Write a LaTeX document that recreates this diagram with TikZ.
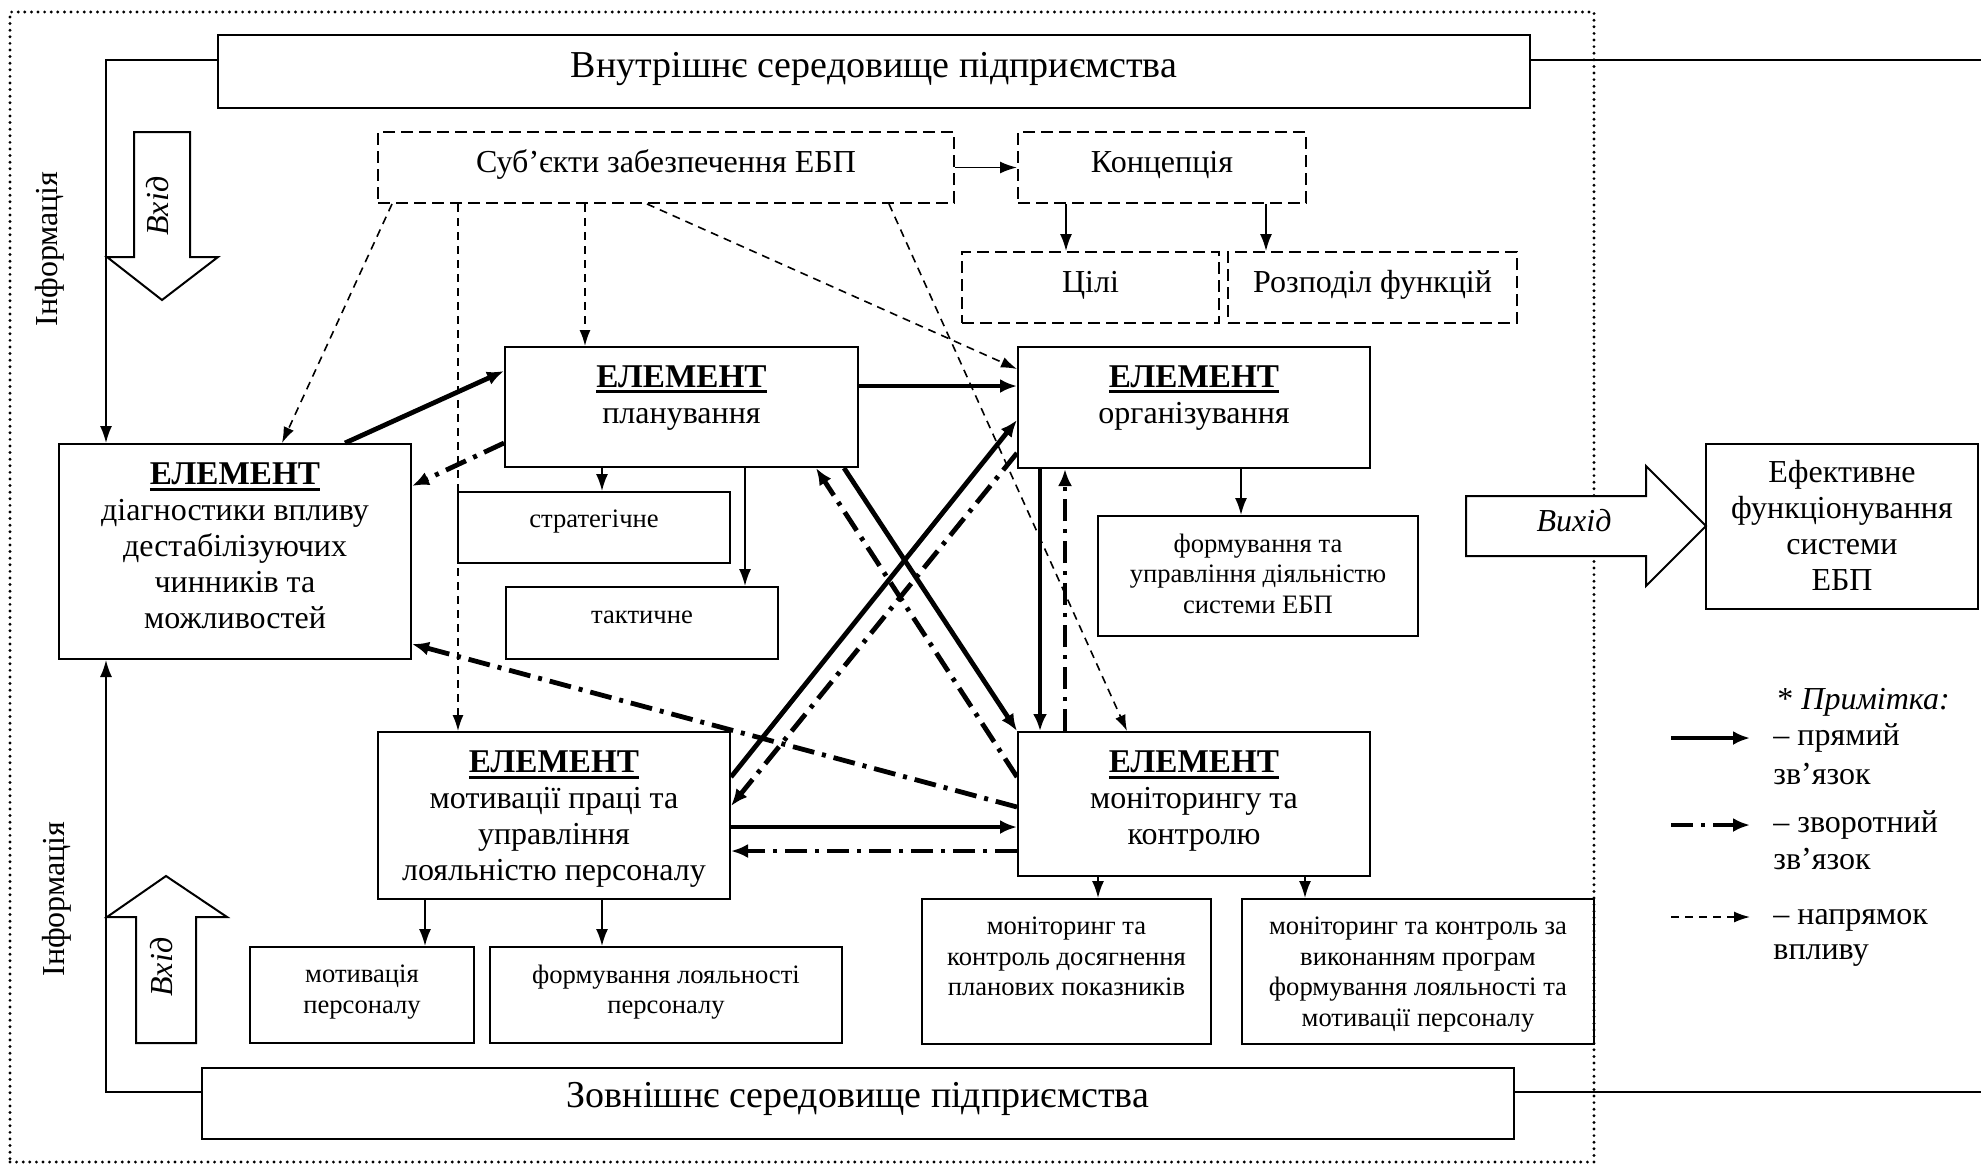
\documentclass[tikz,border=0pt]{standalone}
\usepackage{fontspec}
\setmainfont{Liberation Serif}
\usetikzlibrary{arrows.meta,calc,fit}
\newsavebox\elbox
\newcommand\elem{\sbox\elbox{\fontsize{16.6}{18}\selectfont\bfseries ЕЛЕМЕНТ}\rlap{\rule[-3pt]{\wd\elbox}{1.5pt}}\usebox\elbox}
\newcommand\fenv{\fontsize{19}{22}\selectfont}
\newcommand\fmain{\fontsize{16}{18}\selectfont}
\newcommand\fsub{\fontsize{13.3}{15.25}\selectfont}
\begin{document}
\begin{tikzpicture}[x=0.5pt,y=-0.5pt,
  box/.style={draw, line width=1pt, inner sep=0pt},
  dbox/.style={box, dash pattern=on 6pt off 3pt},
  txt/.style={inner sep=0pt, align=center},
  btxt/.style={inner sep=0pt, anchor=base},
  plainline/.style={line width=0.9pt},
  thinarr/.style={line width=0.9pt, -{Latex[length=8.5pt,width=6pt]}},
  thickarr/.style={line width=2.4pt, -{Latex[length=8.5pt,width=7pt]}},
  fbarr/.style={line width=2.4pt, dash pattern=on 11pt off 4pt on 2pt off 4pt, -{Latex[length=8.5pt,width=7pt]}},
  inflarr/.style={line width=0.8pt, dash pattern=on 4pt off 3pt, -{Latex[length=8pt,width=5.5pt]}},
  blockarr/.style={draw, line width=1pt, fill=white, line join=miter},
  legtxt/.style={anchor=base west, inner sep=0pt, font=\fmain}
]
\useasboundingbox (0,0) rectangle (1981,1164);
\fill[white] (0,0) rectangle (1981,1164);
% outer dotted frame
\node[draw, line width=1.6pt, dash pattern=on 0pt off 3.3pt, line cap=round, inner sep=0pt, fit={(10,12)(1594,1162)}] (frame) {};

% environment boxes
\node[box, fit={(218,35)(1530,108)}] (inner) {};
\node[btxt, font=\fenv] (innertxt) at (874,77) {Внутрішнє середовище підприємства};
\node[box, fit={(202,1068)(1514,1139)}] (outer) {};
\node[btxt, font=\fenv] (outertxt) at (858,1107) {Зовнішнє середовище підприємства};

% subjects / concept
\node[dbox, fit={(378,132)(954,203)}] (subj) {};
\node[btxt, font=\fmain] (subjtxt) at (666,172) {Суб’єкти забезпечення ЕБП};
\node[dbox, fit={(1018,132)(1306,203)}] (concept) {};
\node[btxt, font=\fmain] (concepttxt) at (1162,172) {Концепція};
\node[dbox, fit={(962,252)(1219,323)}] (goals) {};
\node[btxt, font=\fmain] (goalstxt) at (1090.5,292) {Цілі};
\node[dbox, fit={(1228,252)(1517,323)}] (distr) {};
\node[btxt, font=\fmain] (distrtxt) at (1372.5,292) {Розподіл функцій};

% elements
\node[box, fit={(59,444)(411,659)}] (diag) {};
\node[txt, font=\fmain] (diagtxt) at (235,546) {\elem\\діагностики впливу\\дестабілізуючих\\чинників та\\можливостей};
\node[box, fit={(505,347)(858,467)}] (plan) {};
\node[txt, font=\fmain] (plantxt) at (681.5,398) {\elem\\планування};
\node[box, fit={(1018,347)(1370,468)}] (org) {};
\node[txt, font=\fmain] (orgtxt) at (1194,398) {\elem\\організування};
\node[box, fit={(378,732)(730,899)}] (motiv) {};
\node[txt, font=\fmain] (motivtxt) at (554,819.5) {\elem\\мотивації праці та\\управління\\лояльністю персоналу};
\node[box, fit={(1018,732)(1370,876)}] (monit) {};
\node[txt, font=\fmain] (monittxt) at (1194,801.5) {\elem\\моніторингу та\\контролю};

% sub boxes
\node[box, fit={(458,492)(730,563)}] (strat) {};
\node[btxt, font=\fsub] (strattxt) at (594,527) {стратегічне};
\node[box, fit={(506,587)(778,659)}] (tact) {};
\node[btxt, font=\fsub] (tacttxt) at (642,623) {тактичне};
\node[box, fit={(1098,516)(1418,636)}] (form) {};
\node[txt, font=\fsub] (formtxt) at (1258,573.5) {формування та\\управління діяльністю\\системи ЕБП};
\node[box, fit={(250,947)(474,1043)}] (motp) {};
\node[txt, font=\fsub] (motptxt) at (362,992) {мотивація\\персоналу};
\node[box, fit={(490,947)(842,1043)}] (loyal) {};
\node[txt, font=\fsub] (loyaltxt) at (666,992) {формування лояльності\\персоналу};
\node[box, fit={(922,899)(1211,1044)}] (mon1) {};
\node[txt, font=\fsub] (mon1txt) at (1066.5,956.5) {моніторинг та\\контроль досягнення\\планових показників};
\node[box, fit={(1242,899)(1594,1044)}] (mon2) {};
\node[txt, font=\fsub] (mon2txt) at (1418,974.5) {моніторинг та контроль за\\виконанням програм\\формування лояльності та\\мотивації персоналу};

% result
\node[box, fit={(1706,444)(1978,609)}] (eff) {};
\node[txt, font=\fmain] (efftxt) at (1842,525) {Ефективне\\функціонування\\системи\\ЕБП};

% information lines
\coordinate (innerEnd) at (1981,60);
\coordinate (outerEnd) at (1981,1092);
\draw[thinarr] ($(inner.west)+(0,-11.5)$) -| ($(diag.north west)+(48,0)$);
\draw[thinarr] ($(outer.west)+(0,-11.5)$) -| ($(diag.south west)+(48,0)$);
\draw[plainline] ($(inner.east)+(0,-11.5)$) -- (innerEnd);
\draw[plainline] ($(outer.east)+(0,-11.5)$) -- (outerEnd);

% block arrows
\draw[blockarr] (134,132) -- (190,132) -- (190,257) -- (218,257) -- (162,300) -- (107,257) -- (134,257) -- cycle;
\draw[blockarr] (136,1043) -- (196,1043) -- (196,917) -- (227,917) -- (166,876) -- (107,917) -- (136,917) -- cycle;
\draw[blockarr] (1466,496) -- (1646,496) -- (1646,466) -- (1706,526) -- (1646,586) -- (1646,556) -- (1466,556) -- cycle;
\node[txt, rotate=90, font=\fmain\itshape] (vhid1) at (158,206) {Вхід};
\node[txt, rotate=90, font=\fmain\itshape] (vhid2) at (162,967) {Вхід};
\node[btxt, font=\fmain\itshape] (vyhid) at (1574,531) {Вихід};
\node[txt, rotate=90, font=\fmain] (inf1) at (50,249) {Інформація};
\node[txt, rotate=90, font=\fmain] (inf2) at (57,899) {Інформація};

% concept arrows
\draw[thinarr] (subj.east) -- (concept.west);
\draw[thinarr] ($(concept.south west)+(49,0)$) -- ($(goals.north west)+(105,0)$);
\draw[thinarr] ($(concept.south west)+(249,0)$) -- ($(distr.north west)+(39,0)$);

% influence (dashed)
\draw[inflarr] ($(subj.south west)+(15,0)$) -- ($(diag.north west)+(224,0)$);
\draw[inflarr] ($(subj.south west)+(81,0)$) -- ($(motiv.north west)+(81,0)$);
\draw[inflarr] ($(subj.south west)+(208,0)$) -- ($(plan.north west)+(81,0)$);
\draw[inflarr] ($(subj.south west)+(270,0)$) -- ($(org.north west)+(0,23)$);
\draw[inflarr] ($(subj.south west)+(512,0)$) -- ($(monit.north west)+(110,0)$);

% sub arrows
\draw[thinarr] ($(plan.south west)+(98,0)$) -- ($(strat.north west)+(145,0)$);
\draw[thinarr] ($(plan.south west)+(241,0)$) -- ($(tact.north west)+(240,0)$);
\draw[thinarr] ($(org.south west)+(224,0)$) -- ($(form.north west)+(144,0)$);
\draw[thinarr] ($(motiv.south west)+(48,0)$) -- ($(motp.north west)+(176,0)$);
\draw[thinarr] ($(motiv.south west)+(225,0)$) -- ($(loyal.north west)+(113,0)$);
\draw[thinarr] ($(monit.south west)+(81,0)$) -- ($(mon1.north west)+(177,0)$);
\draw[thinarr] ($(monit.south west)+(288,0)$) -- ($(mon2.north west)+(64,0)$);

% direct and feedback links
\draw[thickarr] ($(diag.north west)+(287,0)$) -- ($(plan.north west)+(0,25)$);
\draw[fbarr] ($(plan.north west)+(0,97)$) -- ($(diag.north east)+(0,43)$);
\draw[thickarr] ($(plan.north east)+(0,40)$) -- ($(org.north west)+(0,40)$);
\draw[thickarr] ($(plan.south east)+(-15,0)$) -- (monit.north west);
\draw[fbarr] ($(monit.north west)+(0,46)$) -- ($(plan.south east)+(-43,0)$);
\draw[thickarr] ($(motiv.north east)+(0,46)$) -- ($(org.north west)+(0,74)$);
\draw[fbarr] ($(org.north west)+(0,107)$) -- ($(motiv.north east)+(0,75)$);
\draw[thickarr] ($(org.south west)+(23,0)$) -- ($(monit.north west)+(23,0)$);
\draw[fbarr] ($(monit.north west)+(48,0)$) -- ($(org.south west)+(48,0)$);
\draw[fbarr] ($(monit.north west)+(0,76)$) -- ($(diag.south east)+(0,-16)$);
\draw[thickarr] ($(motiv.north east)+(0,96)$) -- ($(monit.north west)+(0,96)$);
\draw[fbarr] ($(monit.north west)+(0,120)$) -- ($(motiv.north east)+(0,120)$);

% legend
\node[legtxt] (note) at (1777,709) {* \textit{Примітка:}};
\coordinate (l1a) at (1671,738); \coordinate (l1b) at (1750,738);
\coordinate (l2a) at (1671,825); \coordinate (l2b) at (1750,825);
\coordinate (l3a) at (1671,917); \coordinate (l3b) at (1750,917);
\draw[thickarr] (l1a) -- (l1b);
\draw[fbarr] (l2a) -- (l2b);
\draw[inflarr] (l3a) -- (l3b);
\node[legtxt] (lg1) at (1773,745) {– прямий};
\node[legtxt] (lg1b) at (1773,784) {зв’язок};
\node[legtxt] (lg2) at (1773,832) {– зворотний};
\node[legtxt] (lg2b) at (1773,869) {зв’язок};
\node[legtxt] (lg3) at (1773,924) {– напрямок};
\node[legtxt] (lg3b) at (1773,959) {впливу};
\end{tikzpicture}
\end{document}
